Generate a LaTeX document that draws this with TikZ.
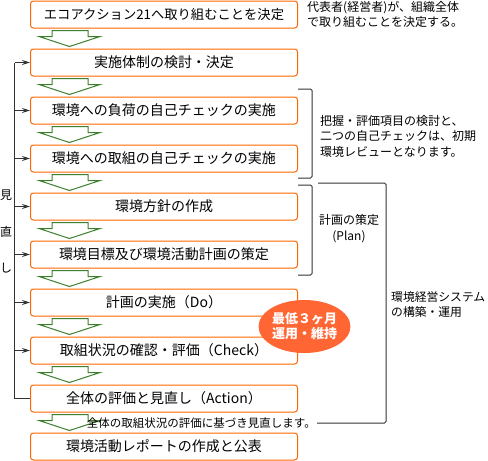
\documentclass[tikz,border=0pt]{standalone}
\usepackage{fontspec}
\setmainfont{Noto Sans CJK JP}
\usetikzlibrary{calc,arrows.meta,shapes.geometric}
\definecolor{boxorange}{HTML}{FF6600}
\definecolor{arrowgreen}{HTML}{3C7F2C}
\definecolor{badgeorange}{HTML}{FF6633}
\definecolor{linegray}{HTML}{333333}

\begin{document}
\begin{tikzpicture}[x=1pt,y=-1pt,
    stepbox/.style={draw=boxorange,line width=1pt,rounded corners=3pt,minimum width=267pt,minimum height=27pt,inner sep=0pt,font=\fontsize{14}{16}\selectfont},
    note/.style={align=left,inner sep=0pt,font=\fontsize{12}{15.5}\selectfont},
    downarrow/.style={draw=arrowgreen,line width=1pt,fill=white,line join=miter},
    loopline/.style={draw=linegray,line width=1.2pt},
    bracket/.style={draw=linegray,line width=1pt,rounded corners=1.5pt}]
  \useasboundingbox (0,0) rectangle (488,461);
  % steps
  \node [stepbox,font=\fontsize{13.3}{16}\selectfont] (b0) at (164,14.5) {エコアクション21へ取り組むことを決定};
  \node [stepbox] (b1) at (164,62.5) {実施体制の検討・決定};
  \node [stepbox] (b2) at (164,110.5) {環境への負荷の自己チェックの実施};
  \node [stepbox] (b3) at (164,158.5) {環境への取組の自己チェックの実施};
  \node [stepbox] (b4) at (164,206.5) {環境方針の作成};
  \node [stepbox] (b5) at (164,254.5) {環境目標及び環境活動計画の策定};
  \node [stepbox] (b6) at (164,302.5) {計画の実施（Do）};
  \node [stepbox] (b7) at (164,350.5) {取組状況の確認・評価（Check）};
  \node [stepbox] (b8) at (164,398.5) {全体の評価と見直し（Action）};
  \node [stepbox] (b9) at (164,446.5) {環境活動レポートの作成と公表};
  % green arrows between steps
  \foreach \a [count=\b] in {0,...,8}
    \draw [downarrow] ($(b\a.south west)+(22,2)$) -- ++(36,0) -- ++(0,6) -- ++(12,0)
      -- ($(b\b.north west)+(39.5,-2)$) -- ++(-30.5,-10) -- ++(13,0) -- cycle;
  % review loop
  \coordinate (lx) at (14.5,0);
  \draw [loopline] (b8.west) -- (b8.west -| lx) -- (b1.west -| lx);
  \foreach \i in {1,...,7}
    \draw [loopline,-{Stealth[length=8pt,width=5pt]}] (b\i.west -| lx) -- (b\i.west);
  \node [note,align=center,font=\fontsize{12}{36.5}\selectfont] (review) at (6,231.5) {見\\直\\し};
  % notes and brackets
  \node [note,anchor=west] (n1) at (307,14.5) {代表者(経営者)が、組織全体\\で取り組むことを決定する。};
  \draw [bracket] (298,89) -- (312,89) -- (312,178) -- (298,178);
  \node [note,anchor=west] (n2) at (320,136) {把握・評価項目の検討と、\\二つの自己チェックは、初期\\環境レビューとなります。};
  \draw [bracket] (298,185) -- (312,185) -- (312,275) -- (298,275);
  \node [note,align=center] (n3) at (349,228.5) {計画の策定\\(Plan)};
  \node [note,anchor=west,font=\fontsize{11.8}{15}\selectfont] (n4) at (391,304.5) {環境経営システム\\の構築・運用};
  \node [note,anchor=east,inner sep=1pt,font=\fontsize{11.5}{14}\selectfont] (n5) at (317,423) {全体の取組状況の評価に基づき見直します。};
  \draw [bracket] (n5.east) -- (386,423) -- (386,183) -- (318,183);
  % badge
  \node [ellipse,fill=badgeorange,minimum width=79pt,minimum height=53pt,inner sep=0pt,text=white,align=center,font=\bfseries\fontsize{13}{15}\selectfont] (badge) at (304.5,326.5) {最低３ヶ月\\運用・維持};
\end{tikzpicture}
\end{document}
